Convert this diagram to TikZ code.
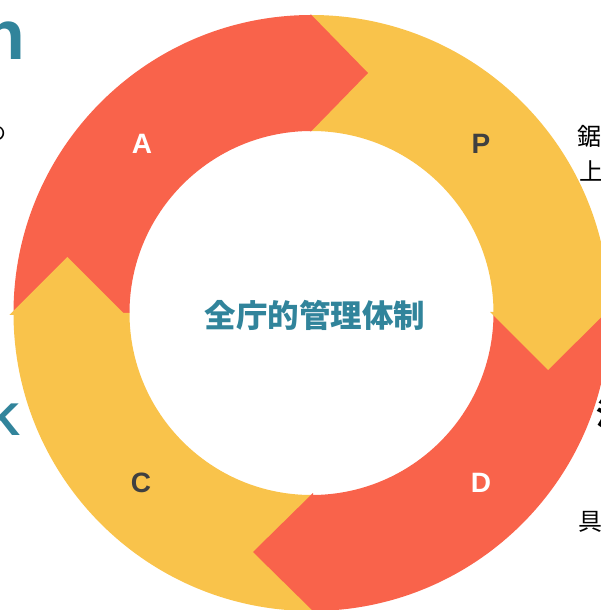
\documentclass[tikz,border=0pt]{standalone}
\usepackage{fontspec}
\setmainfont{Liberation Sans}
\newfontfamily\cjk{Noto Sans CJK JP}
\definecolor{pdred}{HTML}{F9634B}
\definecolor{pdyel}{HTML}{F9C34B}
\definecolor{pdteal}{HTML}{31849B}
\definecolor{pdgray}{HTML}{404040}
\tikzset{
  redfill/.style={fill=pdred,draw=none},
  yelfill/.style={fill=pdyel,draw=none},
  letter/.style={font=\bfseries\fontsize{28}{28}\selectfont,inner sep=0pt},
  edgecjk/.style={font=\cjk\fontsize{24}{24}\selectfont,inner sep=0pt,text=black},
}
\begin{document}
\begin{tikzpicture}[x=1pt,y=1pt]
\useasboundingbox (-311.5,-297) rectangle (289.5,313);
\clip (-311.5,-297) rectangle (289.5,313);
% sectors
\fill[redfill] (180:298) arc[start angle=180,end angle=90,radius=298] -- (90:182) arc[start angle=90,end angle=180,radius=182] -- cycle;
\fill[yelfill] (90:298) arc[start angle=90,end angle=0,radius=298] -- (0:182) arc[start angle=0,end angle=90,radius=182] -- cycle;
\fill[redfill] (0:298) arc[start angle=0,end angle=-90,radius=298] -- (-90:182) arc[start angle=-90,end angle=0,radius=182] -- cycle;
\fill[yelfill] (-90:298) arc[start angle=-90,end angle=-180,radius=298] -- (-180:182) arc[start angle=-180,end angle=-90,radius=182] -- cycle;
% heads
\fill[redfill] (-1,299) -- (56.5,240) -- (-1,181) -- cycle;
\fill[yelfill] (178.5,1) -- (236.5,-57) -- (295,1) -- cycle;
\fill[redfill] (1.5,-180) -- (-58.5,-239) -- (1.5,-298) -- cycle;
\fill[yelfill] (-302,-2) -- (-244,56) -- (-186,-2) -- cycle;
% letters
\node[letter,text=white] (la) at (-169.5,169) {A};
\node[letter,text=pdgray] (lp) at (169.5,169) {P};
\node[letter,text=pdgray] (lc) at (-170.5,-170) {C};
\node[letter,text=white] (ld) at (169.5,-170) {D};
% centre
\node[font=\cjk\bfseries\fontsize{31.5}{31.5}\selectfont,text=pdteal,inner sep=0pt] (ctr) at (3.5,-2) {全庁的管理体制};
% fragments of surrounding text
\node[anchor=base east,font=\bfseries\fontsize{70}{70}\selectfont,text=pdteal,inner sep=0pt] (tn) at (-286.5,253) {n};
\node[anchor=base east,font=\bfseries\fontsize{46}{46}\selectfont,text=pdteal,inner sep=0pt] (tk) at (-290.5,-122) {K};
\node[anchor=east,font=\cjk\fontsize{20}{20}\selectfont,inner sep=0pt] (tno) at (-304.5,179) {の};
\node[edgecjk,anchor=west] (t1) at (265.5,176.5) {鋸};
\node[edgecjk,anchor=west] (t2) at (268,142.5) {上};
\node[anchor=west,font=\cjk\bfseries\fontsize{30}{30}\selectfont,inner sep=0pt] (t3) at (284.5,-101) {決};
\node[edgecjk,anchor=west] (t4) at (266.5,-209) {具};
\end{tikzpicture}
\end{document}
